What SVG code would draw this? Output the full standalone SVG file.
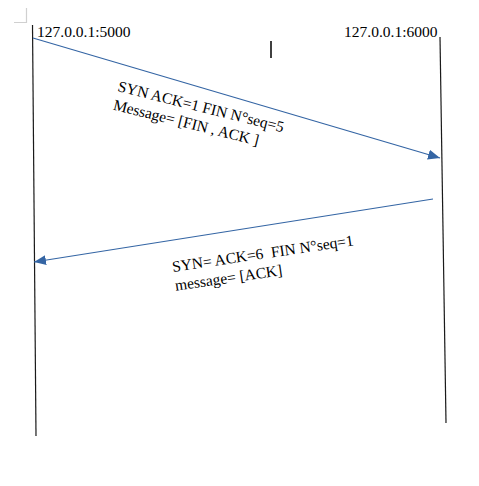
<svg xmlns="http://www.w3.org/2000/svg" width="479" height="486" viewBox="0 0 479 486">
<style>
.life{stroke:#1a1a1a;stroke-width:1.2;fill:none}
.msg{stroke:#3465a4;stroke-width:1.2;fill:none;marker-end:url(#ah)}
text{font-family:"Liberation Serif","Times New Roman",serif;font-size:15.5px;fill:#000;white-space:pre}
</style>
<defs>
<marker id="ah" markerUnits="userSpaceOnUse" markerWidth="14" markerHeight="10" refX="12" refY="5" orient="auto">
<path d="M0,0 L12,5 L0,10 Z" fill="#3465a4"/>
</marker>
</defs>
<rect width="479" height="486" fill="#fff"/>
<path d="M14,22.5 H26.5 V8" stroke="#d0d0d0" stroke-width="1.2" fill="none"/>
<line x1="271" y1="41" x2="271" y2="58" stroke="#000" stroke-width="1.5"/>
<g id="host5000">
<line class="life" x1="32.5" y1="25" x2="36" y2="436"/>
<text x="37" y="37">127.0.0.1:5000</text>
</g>
<g id="host6000">
<line class="life" x1="440" y1="37" x2="446" y2="423"/>
<text x="344" y="37">127.0.0.1:6000</text>
</g>
<g id="connectors">
<line class="msg" x1="33" y1="38" x2="440" y2="158"/>
<line class="msg" x1="433" y1="199" x2="34" y2="262"/>
</g>
<g id="label1">
<text transform="rotate(14 117 91)"><tspan x="117" y="91">SYN ACK=1 FIN N°seq=5</tspan><tspan x="117" y="110">Message= [FIN , ACK ]</tspan></text>
</g>
<g id="label2">
<text transform="rotate(-8.4 173 272)"><tspan x="173" y="272">SYN= ACK=6  FIN N°seq=1</tspan><tspan x="173" y="291">message= [ACK]</tspan></text>
</g>
</svg>
